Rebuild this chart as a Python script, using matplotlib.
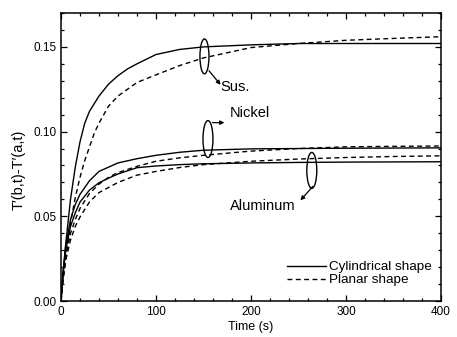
import matplotlib
matplotlib.use("Agg")
import matplotlib.pyplot as plt
from matplotlib.patches import Ellipse

plt.rcParams['font.family'] = ['Liberation Sans', 'DejaVu Sans']

# ---- data ----
sus_cyl_t = [0, 2, 5, 10, 15, 20, 25, 30, 40, 50, 60, 70, 80, 100, 125, 150, 200, 250, 300, 350, 400]
sus_cyl_v = [0, 0.015, 0.034, 0.060, 0.079, 0.094, 0.105, 0.112, 0.121, 0.128, 0.133, 0.137, 0.140, 0.1455, 0.1485, 0.150, 0.1512, 0.152, 0.152, 0.152, 0.152]

sus_pla_t = [0, 2, 5, 10, 15, 20, 25, 30, 35, 40, 50, 60, 80, 100, 125, 150, 200, 250, 300, 350, 400]
sus_pla_v = [0, 0.012, 0.026, 0.046, 0.061, 0.073, 0.083, 0.091, 0.099, 0.105, 0.115, 0.121, 0.129, 0.1335, 0.139, 0.1435, 0.1496, 0.152, 0.1539, 0.155, 0.156]

ni_cyl_t = [0, 2, 5, 10, 15, 20, 30, 40, 50, 60, 80, 100, 125, 150, 200, 250, 300, 350, 400]
ni_cyl_v = [0, 0.016, 0.033, 0.048, 0.057, 0.063, 0.071, 0.0765, 0.079, 0.0815, 0.084, 0.086, 0.0878, 0.089, 0.0898, 0.090, 0.0902, 0.0903, 0.0904]

ni_pla_t = [0, 2, 5, 10, 15, 20, 30, 40, 50, 60, 80, 100, 125, 150, 200, 250, 300, 350, 400]
ni_pla_v = [0, 0.013, 0.027, 0.040, 0.048, 0.0547, 0.0635, 0.0690, 0.073, 0.0758, 0.0795, 0.0825, 0.0845, 0.086, 0.0885, 0.0900, 0.0910, 0.0913, 0.0915]

al_cyl_t = [0, 2, 5, 10, 15, 20, 30, 40, 50, 60, 80, 100, 125, 150, 200, 250, 300, 350, 400]
al_cyl_v = [0, 0.015, 0.030, 0.044, 0.052, 0.0584, 0.0655, 0.0698, 0.0725, 0.0750, 0.0787, 0.0797, 0.0805, 0.081, 0.0815, 0.0818, 0.082, 0.0821, 0.0822]

al_pla_t = [0, 2, 5, 10, 15, 20, 30, 40, 50, 60, 80, 100, 125, 150, 200, 250, 300, 350, 400]
al_pla_v = [0, 0.012, 0.024, 0.036, 0.044, 0.0496, 0.0585, 0.0640, 0.067, 0.0700, 0.0743, 0.0765, 0.0788, 0.0805, 0.0825, 0.0838, 0.0847, 0.0853, 0.0857]

legend_labels = ["Cylindrical shape", "Planar shape"]
material_labels = ["Sus.", "Nickel", "Aluminum"]
x_label = "Time (s)"
y_label = "T\u2032(b,t)-T\u2032(a,t)"

fig = plt.figure(figsize=(4.57, 3.37), dpi=100)
ax = fig.add_axes([0.1335, 0.1068, 0.8315, 0.8546])

lw = 1.0
dash = (0, (3.5, 2.5))
ax.plot(sus_cyl_t, sus_cyl_v, color='black', lw=lw, label=legend_labels[0])
ax.plot(sus_pla_t, sus_pla_v, color='black', lw=lw, ls=dash, label=legend_labels[1])
ax.plot(ni_cyl_t, ni_cyl_v, color='black', lw=lw)
ax.plot(ni_pla_t, ni_pla_v, color='black', lw=lw, ls=dash)
ax.plot(al_cyl_t, al_cyl_v, color='black', lw=lw)
ax.plot(al_pla_t, al_pla_v, color='black', lw=lw, ls=dash)

ax.set_xlim(0, 400)
ax.set_ylim(0, 0.17)
ax.set_xticks([0, 100, 200, 300, 400])
ax.set_yticks([0.00, 0.05, 0.10, 0.15])
ax.set_yticklabels(["0.00", "0.05", "0.10", "0.15"])
ax.xaxis.set_minor_locator(matplotlib.ticker.MultipleLocator(20))
ax.yaxis.set_minor_locator(matplotlib.ticker.MultipleLocator(0.01))
ax.tick_params(which='both', direction='in', top=True, right=True, labelsize=8.5, width=0.9)
ax.tick_params(which='major', length=4.5)
ax.tick_params(which='minor', length=2.5)
for s in ax.spines.values():
    s.set_linewidth(1.1)

ax.set_xlabel(x_label, fontsize=9, labelpad=2.5)
ax.set_ylabel(y_label, fontsize=10.5)
ax.yaxis.set_label_coords(-0.094, 0.455)

# ellipses + arrows
ell_kw = dict(fill=False, edgecolor='black', lw=1.0)
ax.add_patch(Ellipse((151, 0.1444), 9.5, 0.0206, **ell_kw))
ax.add_patch(Ellipse((154.7, 0.0956), 10.5, 0.0218, **ell_kw))
ax.add_patch(Ellipse((264, 0.0771), 10.5, 0.0212, **ell_kw))

arr = dict(arrowstyle='-|>', color='black', lw=0.9, mutation_scale=6, shrinkA=0, shrinkB=0)
ax.annotate("", xy=(168, 0.1276), xytext=(155.8, 0.1359), arrowprops=arr)
ax.annotate("", xy=(172, 0.1053), xytext=(159.5, 0.1053), arrowprops=arr)
ax.annotate("", xy=(252, 0.0594), xytext=(265, 0.0676), arrowprops=arr)

ax.text(168, 0.1265, material_labels[0], fontsize=10.5, va='center', ha='left')
ax.text(178, 0.1109, material_labels[1], fontsize=10.5, va='center', ha='left')
ax.text(178, 0.0559, material_labels[2], fontsize=10.5, va='center', ha='left')

ax.legend(loc='lower right', frameon=False, fontsize=9.7, handlelength=2.9,
          handletextpad=0.2, labelspacing=0.05, borderaxespad=0.3,
          bbox_to_anchor=(1.0, 0.018))

fig.savefig("out.png", dpi=100)
